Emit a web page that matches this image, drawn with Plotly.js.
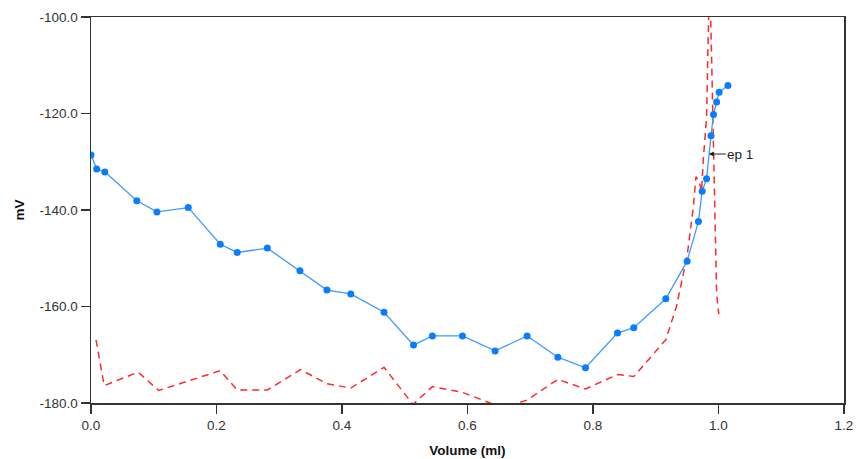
<!DOCTYPE html>
<html>
<head>
<meta charset="utf-8">
<script src="https://cdn.plot.ly/plotly-3.0.1.min.js"></script>
<style>html,body{margin:0;padding:0;background:#fff;}#chart{width:858px;height:459px;}</style>
</head>
<body>
<div id="chart"></div>
<script>
// Titration curve (measured points)
const volume = [0, 0.009, 0.022, 0.073, 0.105, 0.155, 0.206, 0.233, 0.281, 0.333, 0.376, 0.414, 0.467, 0.514, 0.544, 0.592, 0.644, 0.695, 0.744, 0.788, 0.839, 0.865, 0.916, 0.950, 0.968, 0.974, 0.981, 0.988, 0.992, 0.997, 1.001, 1.015];
const mV = [-128.6, -131.5, -132.1, -138.1, -140.4, -139.5, -147.1, -148.8, -147.9, -152.6, -156.6, -157.4, -161.2, -168.0, -166.1, -166.1, -169.2, -166.1, -170.5, -172.7, -165.5, -164.4, -158.4, -150.6, -142.4, -136.1, -133.5, -124.6, -120.2, -117.6, -115.6, -114.2];

// Derivative curve (red dashed)
const dVolume = [0.008, 0.021, 0.075, 0.108, 0.206, 0.233, 0.281, 0.334, 0.376, 0.414, 0.467, 0.513, 0.544, 0.592, 0.644, 0.670, 0.695, 0.744, 0.788, 0.839, 0.865, 0.916, 0.933, 0.950, 0.960, 0.964, 0.9695, 0.973, 0.9757, 0.981, 0.9837, 0.986, 0.989, 0.9944, 0.997, 0.9997, 1.0006];
const dValue = [-166.9, -176.4, -173.6, -177.4, -173.3, -177.3, -177.3, -173.1, -176.0, -176.9, -172.6, -180.3, -176.6, -177.8, -180.4, -180.4, -179.4, -175.1, -177.1, -174.1, -174.5, -166.9, -160.0, -149.5, -139.3, -133.1, -134.2, -136.2, -129.7, -120.7, -103.4, -92.0, -108.3, -140.7, -157.3, -160.7, -161.6];

// Axis ticks
const xTicks = [0, 0.2, 0.4, 0.6, 0.8, 1.0, 1.2];
const xTickText = ["0.0", "0.2", "0.4", "0.6", "0.8", "1.0", "1.2"];
const yTicks = [-180, -160, -140, -120, -100];
const yTickText = ["-180.0", "-160.0", "-140.0", "-120.0", "-100.0"];

// Endpoint
const epLabel = "ep 1";
const epX = 0.9845;
const epY = -128.4;

const traces = [
  {
    x: dVolume, y: dValue, type: 'scatter', mode: 'lines',
    line: {color: '#ff2a2a', width: 1.5, dash: '7px,5px'},
    hoverinfo: 'skip'
  },
  {
    x: volume, y: mV, type: 'scatter', mode: 'lines+markers',
    line: {color: '#3d9bff', width: 1.3},
    marker: {color: '#0a7dff', size: 7}
  }
];

const layout = {
  width: 858, height: 459,
  margin: {l: 91, r: 14, t: 17, b: 56},
  paper_bgcolor: '#fff', plot_bgcolor: '#fff',
  showlegend: false,
  font: {family: 'Liberation Sans, Arial, sans-serif', size: 13.5, color: '#333'},
  xaxis: {
    range: [0, 1.2], tickvals: xTicks, ticktext: xTickText,
    showgrid: false, zeroline: false,
    showline: true, linecolor: '#333', linewidth: 1.5, mirror: true,
    ticks: 'outside', ticklen: 9, tickwidth: 1.5, tickcolor: '#333',
    tickfont: {size: 13.5, color: '#333'},
    title: {text: '<b>Volume (ml)</b>', font: {size: 13.5, color: '#111'}, standoff: 14}
  },
  yaxis: {
    range: [-180, -100], tickvals: yTicks, ticktext: yTickText,
    showgrid: false, zeroline: false,
    showline: true, linecolor: '#333', linewidth: 1.5, mirror: true,
    ticks: 'outside', ticklen: 9, tickwidth: 1.5, tickcolor: '#333',
    tickfont: {size: 13.5, color: '#333'},
    title: {text: '<b>mV</b>', font: {size: 13.5, color: '#111'}, standoff: 12}
  },
  annotations: [{
    x: epX, y: epY, xref: 'x', yref: 'y',
    text: epLabel, showarrow: true, arrowhead: 2, arrowsize: 1, arrowwidth: 1,
    arrowcolor: '#222', ax: 17, ay: 0, xanchor: 'left', borderpad: 0,
    font: {size: 13.5, color: '#222'}
  }]
};

Plotly.newPlot('chart', traces, layout, {displayModeBar: false, staticPlot: true});
</script>
</body>
</html>
